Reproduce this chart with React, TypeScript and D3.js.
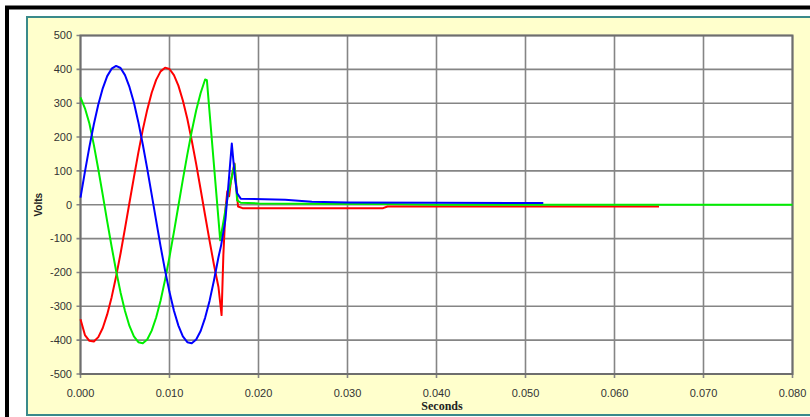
import React, { useRef, useEffect } from 'react'
import * as d3 from 'd3'

// axis ticks
const timeTicks = [0, 0.01, 0.02, 0.03, 0.04, 0.05, 0.06, 0.07, 0.08]
const voltTicks = [-500, -400, -300, -200, -100, 0, 100, 200, 300, 400, 500]

// sample instants of the pre-fault waveform (s)
const sampleTimes = [
  0, 0.0005, 0.001, 0.0015, 0.002, 0.0025, 0.003, 0.0035, 0.004, 0.0045,
  0.005, 0.0055, 0.006, 0.0065, 0.007, 0.0075, 0.008, 0.0085, 0.009, 0.0095,
  0.01, 0.0105, 0.011, 0.0115, 0.012, 0.0125, 0.013, 0.0135, 0.014, 0.0145,
  0.015, 0.0155,
]

// phase voltages (V)
const blueWave = [
  21, 98, 171, 238, 296, 344, 380, 402, 410, 404, 383, 348, 302, 244, 178, 106,
  30, -47, -123, -194, -258, -313, -357, -389, -406, -409, -398, -373, -334, -284,
  -223, -155,
]
const redWave = [
  -338, -385, -402, -404, -391, -364, -324, -273, -212, -144, -70, 6, 81, 154, 222,
  281, 331, 369, 394, 405, 401, 383, 352, 308, 254, 190, 120, 45, -31, -106, -178,
  -243,
]
const greenWave = [
  317, 285, 240, 177, 105, 29, -49, -124, -195, -259, -314, -358, -389, -406, -409,
  -398, -372, -333, -283, -222, -154, -80, -3, 74, 148, 217, 279, 330, 370,
]

// after the fault
const blueTailT = [0.0158, 0.01627, 0.0166, 0.017, 0.01735, 0.0176, 0.018, 0.023, 0.026, 0.03, 0.04, 0.052]
const blueTailV = [-120, -46, 52, 181, 80, 34, 18, 15, 9, 7, 6, 5]
const redTailT = [0.01585, 0.01605, 0.0163, 0.0165, 0.0167, 0.0169, 0.0173, 0.0177, 0.0182, 0.034, 0.0345, 0.065]
const redTailV = [-326, -150, -10, 40, 25, 70, 122, -5, -10, -10, -5, -5]
const greenTailT = [0.0142, 0.0157, 0.0166, 0.0169, 0.0173, 0.0176, 0.018, 0.02, 0.026, 0.034, 0.04, 0.08]
const greenTailV = [368, -105, 33, 70, 120, 13, 6, 4, 3, 2, 0, 0]

export default function App() {
  const svgRef = useRef<SVGSVGElement>(null)

  useEffect(() => {
    const svg = d3.select(svgRef.current)
    svg.selectAll('*').remove()

    const xScale = d3.scaleLinear().domain([0, 0.08]).range([80.5, 792.5])
    const yScale = d3.scaleLinear().domain([-500, 500]).range([374, 35.5])

    // outer frame + chart panel
    svg.append('rect')
      .attr('x', 7).attr('y', 7.5).attr('width', 830).attr('height', 430)
      .attr('fill', '#fff').attr('stroke', '#000').attr('stroke-width', 4)
    svg.append('rect')
      .attr('x', 27).attr('y', 17).attr('width', 800).attr('height', 398)
      .attr('fill', '#ffffcc').attr('stroke', '#3a8a8a').attr('stroke-width', 2)

    // plot area
    svg.append('rect')
      .attr('x', xScale(0)).attr('y', yScale(500))
      .attr('width', xScale(0.08) - xScale(0)).attr('height', yScale(-500) - yScale(500))
      .attr('fill', '#fff')

    const grid = svg.append('g').attr('stroke', '#858585').attr('stroke-width', 1.6)
    grid.selectAll('.hgrid').data(voltTicks).join('line')
      .attr('class', 'hgrid')
      .attr('x1', xScale(0) - 4).attr('x2', xScale(0.08))
      .attr('y1', d => yScale(d)).attr('y2', d => yScale(d))
    grid.selectAll('.vgrid').data(timeTicks).join('line')
      .attr('class', 'vgrid')
      .attr('x1', d => xScale(d)).attr('x2', d => xScale(d))
      .attr('y1', yScale(500)).attr('y2', yScale(-500) + 4)

    svg.append('rect')
      .attr('x', xScale(0)).attr('y', yScale(500))
      .attr('width', xScale(0.08) - xScale(0)).attr('height', yScale(-500) - yScale(500))
      .attr('fill', 'none').attr('stroke', '#6e6e6e').attr('stroke-width', 2)

    // tick labels (plain hyphen for negatives, as in the original)
    svg.append('g').selectAll('text').data(voltTicks).join('text')
      .attr('x', 72).attr('y', d => yScale(d))
      .attr('dy', '0.35em').attr('text-anchor', 'end')
      .attr('font-family', 'Liberation Sans, Arial, sans-serif').attr('font-size', 11)
      .attr('fill', '#333')
      .text(d => String(d))

    svg.append('g').selectAll('text').data(timeTicks).join('text')
      .attr('x', d => xScale(d)).attr('y', 397)
      .attr('text-anchor', 'middle')
      .attr('font-family', 'Liberation Sans, Arial, sans-serif').attr('font-size', 11)
      .attr('fill', '#333')
      .text(d => d.toFixed(3))

    svg.append('text')
      .attr('x', 442).attr('y', 410).attr('text-anchor', 'middle')
      .attr('font-family', 'Liberation Serif, Times New Roman, serif')
      .attr('font-weight', 'bold').attr('font-size', 12).attr('fill', '#222')
      .text('Seconds')

    svg.append('text')
      .attr('transform', `translate(42,${yScale(0)}) rotate(-90)`)
      .attr('text-anchor', 'middle')
      .attr('font-family', 'Liberation Sans, Arial, sans-serif')
      .attr('font-weight', 'bold').attr('font-size', 10).attr('fill', '#222')
      .text('Volts')

    // series
    const line = d3.line<[number, number]>()
      .x(d => xScale(d[0]))
      .y(d => yScale(d[1]))

    const series = [
      { color: '#ff0000', wave: redWave, tailT: redTailT, tailV: redTailV },
      { color: '#00ee00', wave: greenWave, tailT: greenTailT, tailV: greenTailV },
      { color: '#0000ff', wave: blueWave, tailT: blueTailT, tailV: blueTailV },
    ]

    svg.append('g').selectAll('path').data(series).join('path')
      .attr('d', s => line([
        ...s.wave.map((v, i) => [sampleTimes[i], v] as [number, number]),
        ...s.tailT.map((t, i) => [t, s.tailV[i]] as [number, number]),
      ]))
      .attr('fill', 'none')
      .attr('stroke', s => s.color)
      .attr('stroke-width', 2)
      .attr('stroke-linejoin', 'round')
  }, [])

  return (
    <svg
      ref={svgRef}
      width={810}
      height={417}
      style={{ position: 'absolute', left: 0, top: 0 }}
    />
  )
}
